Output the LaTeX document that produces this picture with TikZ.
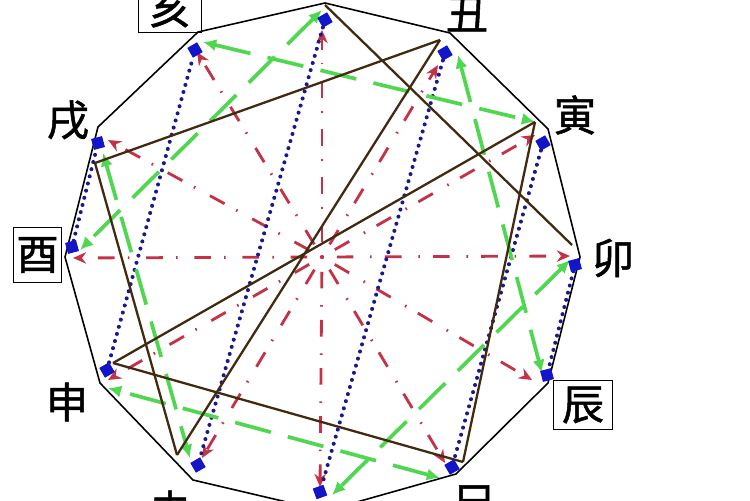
\documentclass[tikz,border=0pt]{standalone}
\usepackage{fontspec}
\newfontfamily\cjk[FakeBold=1.2]{Noto Sans CJK SC}
\usetikzlibrary{arrows.meta}
\definecolor{redl}{RGB}{195,50,70}
\definecolor{bluel}{RGB}{25,25,140}
\definecolor{greenl}{RGB}{80,215,80}
\definecolor{brownl}{RGB}{65,42,15}
\definecolor{markc}{RGB}{20,20,200}
\begin{document}
\begin{tikzpicture}[x=0.02cm,y=-0.02cm,
  poly/.style={draw=black, line width=0.9pt, line join=miter},
  chong/.style={draw=redl, line width=1.6pt, dash pattern=on 0.9pt off 7.5pt on 9.5pt off 9.5pt, -{Stealth[length=7.5pt,width=6.5pt]}},
  hailine/.style={draw=bluel, line width=2.3pt, line cap=round, dash pattern=on 0pt off 4.2pt},
  poline/.style={draw=greenl, line width=2.1pt, dash pattern=on 21pt off 10pt, {Latex[length=7.5pt,width=7pt]}-{Latex[length=7.5pt,width=7pt]}},
  xing/.style={draw=brownl, line width=1.3pt},
  blmark/.style={fill=markc, draw=none, minimum size=6pt, inner sep=0pt, shape=rectangle},
  lab/.style={font=\cjk\fontsize{24}{24}\selectfont, inner sep=0pt},
  boxlab/.style={lab, draw=black, line width=0.6pt}
]
\useasboundingbox (0,0) rectangle (750,500);
\fill[white] (0,0) rectangle (750,500);
% vertices
\coordinate (Vzi) at (325,3);
\coordinate (Vchou) at (450,33);
\coordinate (Vyin) at (548,129);
\coordinate (Vmao) at (580,257);
\coordinate (Vchen) at (548,383);
\coordinate (Vsi) at (456,474);
\coordinate (Vwu) at (325,511);
\coordinate (Vwei) at (193,480);
\coordinate (Vshen) at (100,383);
\coordinate (Vyou) at (65,257);
\coordinate (Vxu) at (98,127);
\coordinate (Vhai) at (198,32);
% centre
\coordinate (C) at (322,257);
% red tips
\coordinate (Rzi) at (322,30);
\coordinate (Rchou) at (438,65);
\coordinate (Ryin) at (535,135);
\coordinate (Rmao) at (570,256);
\coordinate (Rchen) at (532,380);
\coordinate (Rsi) at (445,463);
\coordinate (Rwu) at (320,487);
\coordinate (Rwei) at (202,458);
\coordinate (Rshen) at (108,380);
\coordinate (Ryou) at (73,258);
\coordinate (Rxu) at (108,140);
\coordinate (Rhai) at (197,52);
% green tips
\coordinate (Gzi) at (322,10);
\coordinate (Gchou) at (458,55);
\coordinate (Gyin) at (535,122);
\coordinate (Gmao) at (570,260);
\coordinate (Gchen) at (542,373);
\coordinate (Gsi) at (440,478);
\coordinate (Gwu) at (332,495);
\coordinate (Gwei) at (190,458);
\coordinate (Gshen) at (108,388);
\coordinate (Gyou) at (80,250);
\coordinate (Gxu) at (103,153);
\coordinate (Ghai) at (203,42);
% brown points
\coordinate (Bzi) at (325,5);
\coordinate (Bchou) at (440,40);
\coordinate (Byin) at (535,122);
\coordinate (Bmao) at (572,245);
\coordinate (Bsi) at (463,462);
\coordinate (Bwei) at (177,455);
\coordinate (Bshen) at (113,363);
\coordinate (Bxu) at (95,163);

% dodecagon
\draw[poly] (Vzi) -- (Vchou) -- (Vyin) -- (Vmao) -- (Vchen) -- (Vsi) -- (Vwu) -- (Vwei) -- (Vshen) -- (Vyou) -- (Vxu) -- (Vhai) -- cycle;

% red dash-dot rays
\foreach \n in {zi,chou,yin,mao,chen,si,wu,wei,shen,you,xu,hai}
  \draw[chong] (C) -- (R\n);

% markers
\node[blmark, rotate=30] (Mhai) at (195,50) {};
\node[blmark, rotate=30] (Mzi) at (325,20) {};
\node[blmark, rotate=30] (Mchou) at (445,53) {};
\node[blmark, rotate=30] (Myin) at (543,143) {};
\node[blmark, rotate=15] (Mmao) at (575,265) {};
\node[blmark, rotate=15] (Mchen) at (547,375) {};
\node[blmark, rotate=30] (Msi) at (452,467) {};
\node[blmark, rotate=20] (Mwu) at (320,492) {};
\node[blmark, rotate=30] (Mwei) at (198,465) {};
\node[blmark, rotate=30] (Mshen) at (107,370) {};
\node[blmark, rotate=15] (Myou) at (72,247) {};
\node[blmark, rotate=15] (Mxu) at (98,143) {};

% blue dotted pairs
\draw[hailine] (Mzi) -- (Mwei);
\draw[hailine] (Mchou) -- (Mwu);
\draw[hailine] (Myin) -- (Msi);
\draw[hailine] (Mmao) -- (Mchen);
\draw[hailine] (Mshen) -- (Mhai);
\draw[hailine] (Myou) -- (Mxu);

% green dashed pairs
\draw[poline] (Ghai) -- (Gyin);
\draw[poline] (Gzi) -- (Gyou);
\draw[poline] (Gchou) -- (Gchen);
\draw[poline] (Gmao) -- (Gwu);
\draw[poline] (Gsi) -- (Gshen);
\draw[poline] (Gxu) -- (Gwei);

% brown lines
\draw[xing] (Bzi) -- (Bmao);
\draw[xing] (Bchou) -- (Bxu);
\draw[xing] (Bchou) -- (Bwei);
\draw[xing] (Bxu) -- (Bwei);
\draw[xing] (Byin) -- (Bsi);
\draw[xing] (Bsi) -- (Bshen);
\draw[xing] (Byin) -- (Bshen);

% markers on top again
\foreach \n in {hai,zi,chou,yin,mao,chen,si,wu,wei,shen,you,xu}
  \fill[markc] (M\n.north west) -- (M\n.north east) -- (M\n.south east) -- (M\n.south west) -- cycle;

% labels
\node[boxlab, minimum width=36.3pt, minimum height=28.4pt] (Lhai) at (170,8) {亥};
\node[lab] (Lchou) at (467,14) {丑};
\node[lab] (Lyin) at (575,115) {寅};
\node[lab] (Lmao) at (613,258) {卯};
\node[boxlab, minimum width=34pt, minimum height=28.4pt] (Lchen) at (583,405) {辰};
\node[lab] (Lsi) at (475,503) {巳};
\node[lab] (Lwei) at (170,510) {未};
\node[lab] (Lshen) at (67,402) {申};
\node[boxlab, minimum width=27.8pt, minimum height=31.7pt] (Lyou) at (37.5,255) {酉};
\node[lab] (Lxu) at (68,120) {戌};
\end{tikzpicture}
\end{document}
